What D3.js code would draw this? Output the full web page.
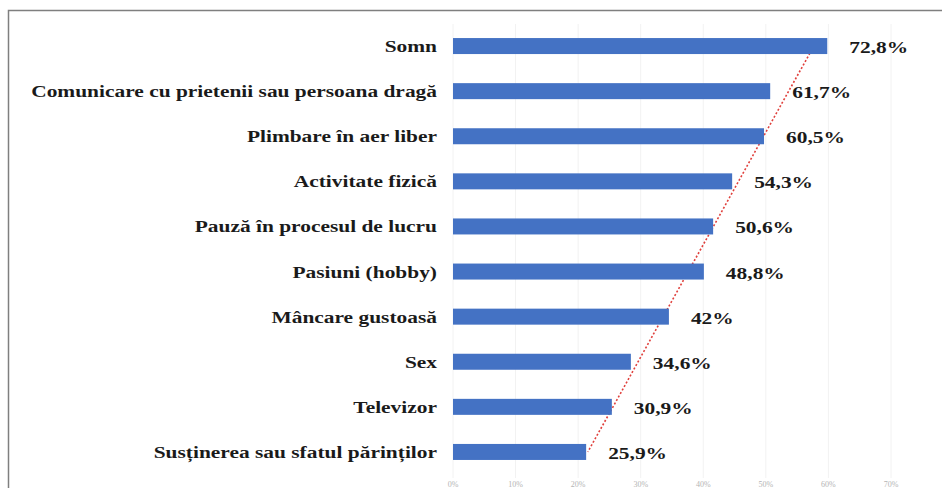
<!DOCTYPE html>
<html>
<head>
<meta charset="utf-8">
<script src="https://cdn.jsdelivr.net/npm/d3@7"></script>
<style>
  html, body { margin: 0; padding: 0; background: #fff; }
  svg { display: block; }
</style>
</head>
<body>
<svg id="chart" width="942" height="488"></svg>
<script>
// ---- data ----
const categories = [
  "Somn",
  "Comunicare cu prietenii sau persoana dragă",
  "Plimbare în aer liber",
  "Activitate fizică",
  "Pauză în procesul de lucru",
  "Pasiuni (hobby)",
  "Mâncare gustoasă",
  "Sex",
  "Televizor",
  "Susținerea sau sfatul părinților"
];
const values = [72.8, 61.7, 60.5, 54.3, 50.6, 48.8, 42, 34.6, 30.9, 25.9];
const valueLabels = ["72,8%", "61,7%", "60,5%", "54,3%", "50,6%", "48,8%", "42%", "34,6%", "30,9%", "25,9%"];
const axisTickLabels = ["0%", "10%", "20%", "30%", "40%", "50%", "60%", "70%"];

// ---- layout ----
const W = 942, H = 488;
const plotLeft = 453, plotRight = 891;
const stretch = 1.26;      // horizontal glyph stretch seen in the reference
const fontSize = 17;

const svg = d3.select("#chart");

const x = d3.scaleLinear().domain([0, 85.2]).range([plotLeft, plotRight]);
const y = d3.scalePoint().domain(categories).range([23.5, 474.5]).padding(0.5);
const tickScale = d3.scalePoint().domain(axisTickLabels).range([plotLeft, plotRight]);
const barH = 16;

// frame
svg.append("path")
  .attr("d", `M8.5,${H} V10.5 H${W}`)
  .attr("fill", "none")
  .attr("stroke", "#7f7f7f")
  .attr("stroke-width", 1.5);

// faint gridlines
svg.append("g").selectAll("line")
  .data(axisTickLabels)
  .join("line")
  .attr("x1", d => tickScale(d)).attr("x2", d => tickScale(d))
  .attr("y1", 24).attr("y2", 478)
  .attr("stroke", "#f2f2f2")
  .attr("stroke-width", 1);

// bottom tick labels (tiny, at the page edge as in the reference)
svg.append("g").selectAll("text")
  .data(axisTickLabels)
  .join("text")
  .attr("x", d => tickScale(d))
  .attr("y", 486.5)
  .attr("text-anchor", "middle")
  .attr("font-family", "'Liberation Serif', 'Times New Roman', serif")
  .attr("font-size", 8)
  .attr("fill", "#b4b4b4")
  .text(d => d);

// linear trendline (least squares on category index)
const idx = d3.range(values.length);
const mi = d3.mean(idx), mv = d3.mean(values);
const slope = d3.sum(idx, i => (i - mi) * (values[i] - mv)) / d3.sum(idx, i => (i - mi) ** 2);
const fit = i => mv + slope * (i - mi);
const first = 0, last = values.length - 1;
svg.append("line")
  .attr("x1", x(fit(first))).attr("y1", y(categories[first]))
  .attr("x2", x(fit(last))).attr("y2", y(categories[last]))
  .attr("stroke", "#e0403c")
  .attr("stroke-width", 1.6)
  .attr("stroke-dasharray", "2,2");

// bars
svg.append("g").selectAll("rect")
  .data(categories)
  .join("rect")
  .attr("x", x(0))
  .attr("y", d => y(d) - barH / 2)
  .attr("width", (d, i) => x(values[i]) - x(0))
  .attr("height", barH)
  .attr("fill", "#4472c4");

// category labels
svg.append("g").selectAll("text")
  .data(categories)
  .join("text")
  .attr("transform", d => `translate(437,${y(d)}) scale(${stretch},1)`)
  .attr("dy", "0.35em")
  .attr("text-anchor", "end")
  .attr("font-family", "'Liberation Serif', 'Times New Roman', serif")
  .attr("font-weight", "bold")
  .attr("font-size", fontSize)
  .attr("fill", "#1a1a1a")
  .text(d => d);

// value labels
svg.append("g").selectAll("text")
  .data(categories)
  .join("text")
  .attr("transform", (d, i) => `translate(${x(values[i]) + 22},${y(d) + 1}) scale(${stretch},1)`)
  .attr("dy", "0.35em")
  .attr("text-anchor", "start")
  .attr("font-family", "'Liberation Serif', 'Times New Roman', serif")
  .attr("font-weight", "bold")
  .attr("font-size", fontSize)
  .attr("fill", "#1a1a1a")
  .text((d, i) => valueLabels[i]);
</script>
</body>
</html>
